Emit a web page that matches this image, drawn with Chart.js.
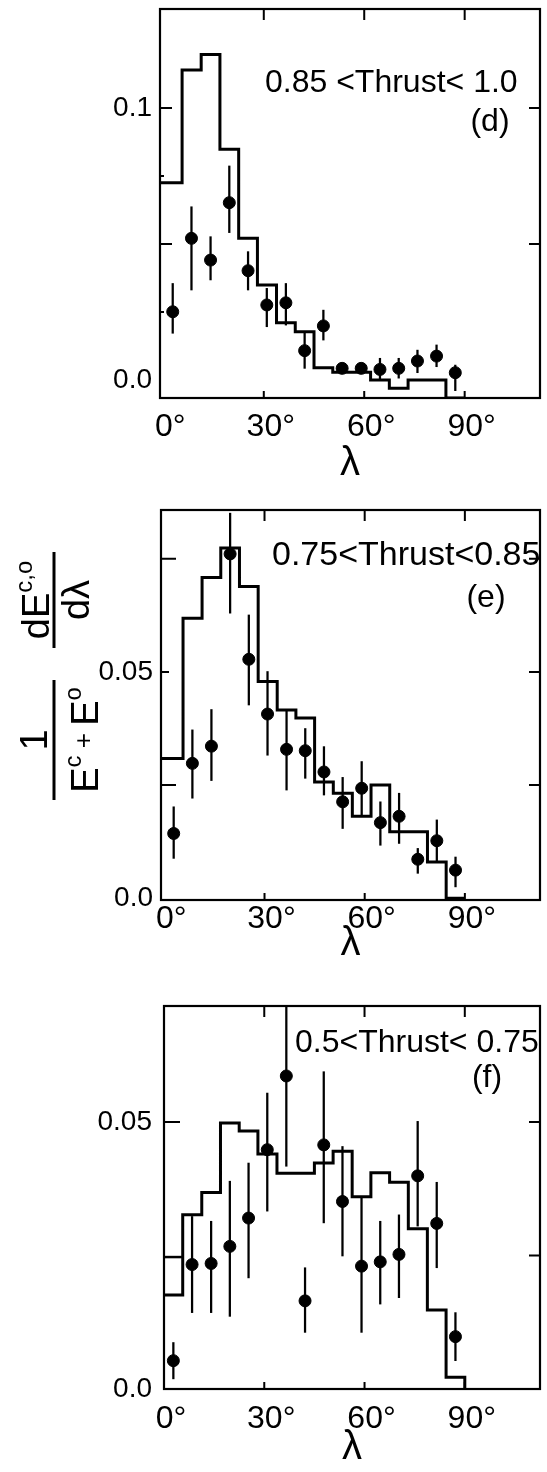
<!DOCTYPE html>
<html lang="en">
<head>
  <meta charset="UTF-8" />
  <title>Energy flow vs lambda, three thrust bins</title>
  <script src="https://cdn.jsdelivr.net/npm/chart.js"></script>
  <style>
    body {
      margin: 0;
      padding: 0;
      background: white;
      width: 547px;
      height: 1472px;
      position: relative;
      overflow: hidden;
    }
    .panel {
      position: absolute;
      left: 0;
    }
  </style>
</head>
<body>

  <div class="panel" style="top:0px"><canvas id="chartD" width="547" height="490"></canvas></div>
  <div class="panel" style="top:490px"><canvas id="chartE" width="547" height="500"></canvas></div>
  <div class="panel" style="top:990px"><canvas id="chartF" width="547" height="482"></canvas></div>

  <script>
    const FONT = '"Liberation Sans", Arial, sans-serif';

    // bin centres (degrees) and histogram bin edges
    const lam = [2.8, 8.4, 14.1, 19.7, 25.3, 30.9, 36.6, 42.2, 47.8, 53.4, 59.1, 64.7, 70.3, 75.9, 81.6, 87.2];
    const binEdges = [0, 5.6, 11.3, 16.9, 22.5, 28.1, 33.8, 39.4, 45, 50.6, 56.3, 61.9, 67.5, 73.1, 78.8, 84.4, 90];
    const xTickValues = [0, 30, 60, 90];

    // (d) 0.85 < Thrust < 1.0
    const dHist = [0.0725, 0.114, 0.1197, 0.0848, 0.0521, 0.0349, 0.0211, 0.0178, 0.0045, 0.0029, 0.0029, 0.0, -0.003, 0.0, 0.0, -0.0066];
    const dVal = [0.0251, 0.0521, 0.0441, 0.0652, 0.0402, 0.0276, 0.0284, 0.0108, 0.0199, 0.0043, 0.0043, 0.0039, 0.0043, 0.0070, 0.0088, 0.0027];
    const dLo = [0.0172, 0.0331, 0.0368, 0.0542, 0.0331, 0.0196, 0.0202, 0.0043, 0.0147, 0.0030, 0.0030, 0.0000, 0.0007, 0.0027, 0.0049, -0.0039];
    const dHi = [0.0355, 0.0637, 0.0527, 0.0787, 0.0472, 0.0337, 0.0355, 0.0172, 0.0257, 0.0056, 0.0056, 0.0080, 0.0080, 0.0110, 0.0129, 0.0055];
    const dYTicks = [0, 0.1];
    const dYLabels = ['0.0', '0.1'];

    // (e) 0.75 < Thrust < 0.85
    const eHist = [0.0309, 0.0619, 0.0709, 0.0774, 0.0689, 0.0479, 0.0416, 0.0398, 0.0257, 0.0232, 0.0181, 0.0250, 0.0147, 0.0147, 0.0080, 0.0];
    const eVal = [0.0143, 0.0298, 0.0336, 0.0761, 0.0528, 0.0407, 0.0329, 0.0326, 0.0279, 0.0213, 0.0243, 0.0167, 0.0181, 0.0086, 0.0127, 0.0062];
    const eLo = [0.0088, 0.0221, 0.0260, 0.0630, 0.0427, 0.0316, 0.0239, 0.0265, 0.0228, 0.0154, 0.0184, 0.0117, 0.0121, 0.0055, 0.0080, 0.0025];
    const eHi = [0.0202, 0.0372, 0.0417, 0.0851, 0.0626, 0.0501, 0.0416, 0.0375, 0.0335, 0.0267, 0.0302, 0.0213, 0.0232, 0.0110, 0.0173, 0.0091];
    const eYTicks = [0, 0.05];
    const eYLabels = ['0.0', '0.05'];

    // (f) 0.5 < Thrust < 0.75
    const fHist = [0.0176, 0.0326, 0.0368, 0.0498, 0.0483, 0.0440, 0.0404, 0.0404, 0.0423, 0.0445, 0.0360, 0.0405, 0.0387, 0.0300, 0.0148, 0.0022];
    const fFirstBinUpper = 0.0247;
    const fVal = [0.0053, 0.0233, 0.0235, 0.0267, 0.0320, 0.0448, 0.0586, 0.0165, 0.0457, 0.0351, 0.0230, 0.0238, 0.0252, 0.0399, 0.0310, 0.0098];
    const fLo = [0.0019, 0.0143, 0.0143, 0.0136, 0.0208, 0.0333, 0.0417, 0.0106, 0.0311, 0.0249, 0.0106, 0.0159, 0.0171, 0.0305, 0.0227, 0.0053];
    const fHi = [0.0087, 0.0323, 0.0314, 0.0389, 0.0423, 0.0554, 0.0715, 0.0227, 0.0594, 0.0454, 0.0358, 0.0314, 0.0326, 0.0501, 0.0387, 0.0143];
    const fYTicks = [0, 0.05];
    const fYLabels = ['0.0', '0.05'];

    const thrustLabels = ['0.85 <Thrust< 1.0', '0.75<Thrust<0.85', '0.5<Thrust< 0.75'];
    const panelTags = ['(d)', '(e)', '(f)'];

    function histPoints(hist, xMin) {
      const pts = hist.map((h, i) => ({ x: i === 0 ? xMin : binEdges[i], y: h }));
      pts.push({ x: binEdges[binEdges.length - 1], y: Math.min(0, hist[hist.length - 1]) });
      return pts;
    }

    function drawRich(ctx, parts, cx, baseline) {
      let w = 0;
      parts.forEach(p => { ctx.font = p[1] + 'px ' + FONT; w += ctx.measureText(p[0]).width; });
      let x = cx - w / 2;
      parts.forEach(p => {
        ctx.font = p[1] + 'px ' + FONT;
        ctx.fillText(p[0], x, baseline - p[2]);
        x += ctx.measureText(p[0]).width;
      });
    }

    // frame, inward ticks, annotations and the y title
    const panelPlugin = {
      id: 'panel',
      afterDraw(chart, args, opts) {
        const ctx = chart.ctx;
        const a = chart.chartArea;
        const xs = chart.scales.x, ys = chart.scales.y;
        ctx.save();
        ctx.strokeStyle = '#000';
        ctx.fillStyle = '#000';
        ctx.lineWidth = 2.2;
        ctx.strokeRect(a.left, a.top, a.right - a.left, a.bottom - a.top);

        ctx.lineWidth = 2;
        ctx.beginPath();
        opts.leftTicks.forEach(t => {
          const y = ys.getPixelForValue(t[0]);
          ctx.moveTo(a.left, y); ctx.lineTo(a.left + t[1], y);
        });
        opts.rightTicks.forEach(v => {
          const y = ys.getPixelForValue(v);
          ctx.moveTo(a.right, y); ctx.lineTo(a.right - 11, y);
        });
        [30, 60, 90].forEach(v => {
          const x = xs.getPixelForValue(v);
          ctx.moveTo(x, a.top); ctx.lineTo(x, a.top + 11);
          ctx.moveTo(x, a.bottom); ctx.lineTo(x, a.bottom - 7);
        });
        ctx.stroke();

        ctx.textAlign = 'left';
        ctx.textBaseline = 'alphabetic';
        ctx.font = opts.labelSize + 'px ' + FONT;
        ctx.fillText(opts.label, opts.labelX, opts.labelY);
        ctx.textAlign = 'center';
        ctx.font = '32px ' + FONT;
        ctx.fillText(opts.tag, opts.tagX, opts.tagY);

        if (opts.yTitle) {
          ctx.textAlign = 'left';
          ctx.lineWidth = 3;
          // upper fraction: dE^{c,o} / dλ
          ctx.save();
          ctx.translate(54, 110);
          ctx.rotate(-Math.PI / 2);
          ctx.beginPath(); ctx.moveTo(-48, 0); ctx.lineTo(48, 0); ctx.stroke();
          drawRich(ctx, [['d', 38, 0], ['E', 38, 0], ['c,o', 24, 17]], 0, -5);
          drawRich(ctx, [['dλ', 38, 0]], 0, 35);
          ctx.restore();
          // lower fraction: 1 / (E^c + E^o)
          ctx.save();
          ctx.translate(54, 250);
          ctx.rotate(-Math.PI / 2);
          ctx.beginPath(); ctx.moveTo(-60, 0); ctx.lineTo(60, 0); ctx.stroke();
          drawRich(ctx, [['1', 38, 0]], 0, -7);
          drawRich(ctx, [['E', 38, 0], ['c', 24, 17], [' + ', 26, 6], ['E', 38, 0], ['o', 24, 17]], 0, 44);
          ctx.restore();
        }
        ctx.restore();
      }
    };

    function createPanel(id, cfg) {
      return new Chart(document.getElementById(id), {
        type: 'scatter',
        data: {
          datasets: [
            {
              type: 'line',
              data: histPoints(cfg.hist, cfg.xMin),
              borderColor: '#000',
              borderWidth: 3,
              pointRadius: 0,
              stepped: 'before',
              fill: false,
              order: 3
            },
            {
              type: 'line',
              data: cfg.extra || [],
              borderColor: '#000',
              borderWidth: 2.5,
              pointRadius: 0,
              fill: false,
              order: 3
            },
            {
              type: 'bar',
              data: lam.map((x, i) => ({ x: x, y: [cfg.lo[i], cfg.hi[i]] })),
              backgroundColor: '#000',
              barThickness: 1.6,
              grouped: false,
              order: 2
            },
            {
              type: 'scatter',
              data: lam.map((x, i) => ({ x: x, y: cfg.val[i] })),
              backgroundColor: '#000',
              borderColor: '#000',
              pointRadius: 6,
              pointStyle: 'circle',
              order: 1
            }
          ]
        },
        options: {
          responsive: false,
          animation: false,
          layout: { padding: { top: cfg.padTop, right: 1, left: 0, bottom: 0 } },
          plugins: {
            legend: { display: false },
            tooltip: { enabled: false },
            panel: cfg.panel
          },
          scales: {
            x: {
              type: 'linear',
              min: cfg.xMin,
              max: 112.5,
              offset: false,
              grid: { display: false, drawTicks: false },
              border: { display: false },
              afterBuildTicks: s => { s.ticks = xTickValues.map(v => ({ value: v })); },
              ticks: {
                callback: v => v + '°',
                color: '#000',
                font: { family: FONT, size: 32 },
                padding: cfg.xPad,
                labelOffset: 7,
                maxRotation: 0,
                autoSkip: false
              },
              title: {
                display: true,
                text: 'λ',
                color: '#000',
                font: { family: FONT, size: 40 },
                padding: { top: 0, bottom: cfg.titlePad }
              },
              afterFit: s => {
                s.height = cfg.xHeight;
                s.paddingLeft = 0;
                s.paddingRight = 0;
              }
            },
            y: {
              type: 'linear',
              min: cfg.yMin,
              max: cfg.yMax,
              grid: { display: false, drawTicks: false },
              border: { display: false },
              afterBuildTicks: s => { s.ticks = cfg.yTicks.map(v => ({ value: v })); },
              ticks: {
                callback: (v, i) => cfg.yLabels[i],
                color: '#000',
                font: { family: FONT, size: 28 },
                padding: cfg.yPad
              },
              afterFit: s => {
                s.width = cfg.left;
                s.paddingTop = 0;
                s.paddingBottom = 0;
              }
            }
          }
        },
        plugins: [panelPlugin]
      });
    }

    createPanel('chartD', {
      hist: dHist, val: dVal, lo: dLo, hi: dHi,
      xMin: -1, yMin: -0.0066, yMax: 0.1364,
      yTicks: dYTicks, yLabels: dYLabels,
      left: 160, padTop: 9, xHeight: 92, xPad: 10, titlePad: 2, yPad: 8,
      panel: {
        leftTicks: [[0.1, 12], [0.075, 4], [0.05, 12], [0.025, 4]],
        rightTicks: [0.1, 0.05],
        label: thrustLabels[0], labelSize: 32, labelX: 265, labelY: 92,
        tag: panelTags[0], tagX: 490, tagY: 131
      }
    });

    createPanel('chartE', {
      hist: eHist, val: eVal, lo: eLo, hi: eHi,
      xMin: -1, yMin: -0.0004, yMax: 0.0858,
      yTicks: eYTicks, yLabels: eYLabels,
      left: 161, padTop: 20, xHeight: 90, xPad: 0, titlePad: 22, yPad: 8,
      panel: {
        leftTicks: [[0.075, 15], [0.05, 8], [0.025, 15]],
        rightTicks: [0.075, 0.05, 0.025],
        label: thrustLabels[1], labelSize: 34, labelX: 272, labelY: 75,
        tag: panelTags[1], tagX: 486, tagY: 117,
        yTitle: true
      }
    });

    createPanel('chartF', {
      hist: fHist, val: fVal, lo: fLo, hi: fHi,
      extra: [{ x: 0, y: fFirstBinUpper }, { x: binEdges[1], y: fFirstBinUpper }],
      xMin: 0, yMin: 0, yMax: 0.0717,
      yTicks: fYTicks, yLabels: fYLabels,
      left: 164, padTop: 16, xHeight: 83, xPad: 11, titlePad: 0, yPad: 12,
      panel: {
        leftTicks: [[0.05, 16]],
        rightTicks: [0.05, 0.025],
        label: thrustLabels[2], labelSize: 32, labelX: 295, labelY: 62,
        tag: panelTags[2], tagX: 487, tagY: 97
      }
    });
  </script>

</body>
</html>
